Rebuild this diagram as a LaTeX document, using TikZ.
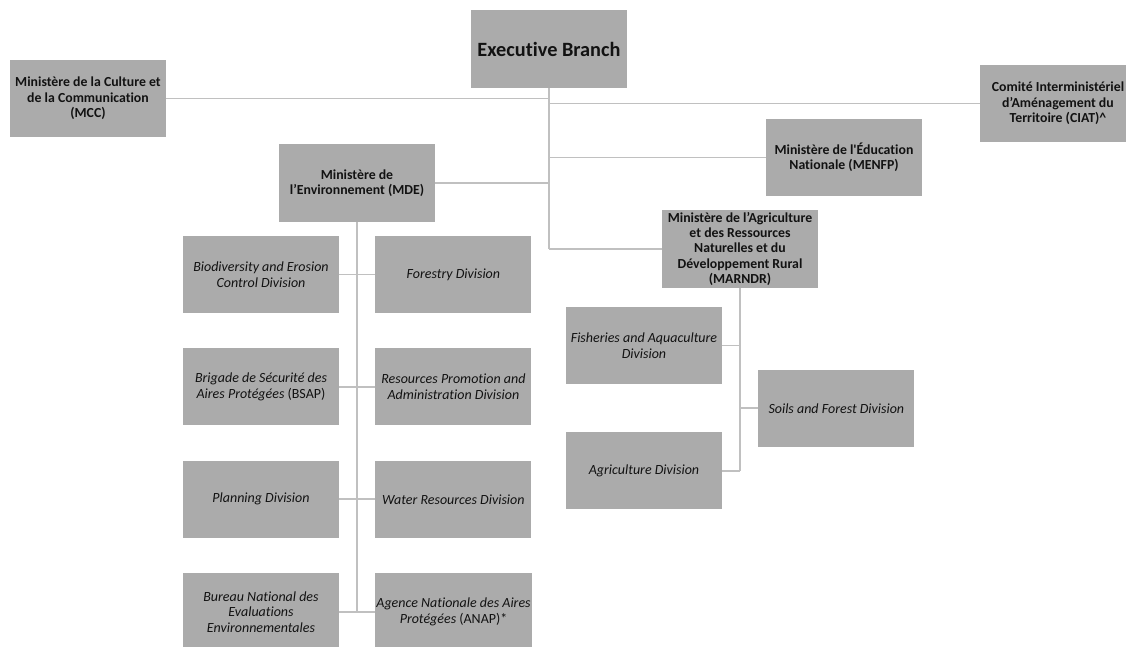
\documentclass[tikz,border=0pt]{standalone}
\usepackage{fontspec}
\setmainfont{Carlito}[Ligatures=NoCommon]
\usetikzlibrary{positioning}
\definecolor{boxgray}{HTML}{ABABAB}
\definecolor{linegray}{HTML}{C0C0C0}
\definecolor{textgray}{HTML}{121212}

\begin{document}
\begin{tikzpicture}[
				x=1pt, y=-1pt,
				node distance=36pt,
				link/.style={draw=linegray, line width=1.8pt},
				block/.style={fill=boxgray, text=textgray, minimum width=156pt, minimum height=77pt, align=center, inner sep=1pt, font=\fontsize{13.8}{15.3}\selectfont\bfseries},
				division/.style={block, font=\fontsize{14}{15.5}\selectfont\itshape},
			]
				\useasboundingbox (0,0) rectangle (1126,647);

				\node[block, minimum height=78pt, font=\fontsize{20.3}{23}\selectfont\bfseries] (executive) at (549,49) {Executive Branch};
				\node[block] (mcc) at (88,98.5) {Ministère de la Culture et\\de la Communication\\(MCC)};
				\node[block] (ciat) at (1058,103.5) {Comité Interministériel\\d’Aménagement du\\Territoire (CIAT)\textasciicircum};
				\node[block] (menfp) at (844,157.5) {Ministère de l\textquotesingle Éducation\\Nationale (MENFP)};
				\node[block] (mde) at (357,183) {Ministère de\\l’Environnement (MDE)};
				\node[block, minimum height=78pt] (marndr) at (740,249) {Ministère de l’Agriculture\\et des Ressources\\Naturelles et du\\Développement Rural\\(MARNDR)};

				% environment divisions
				\node[division] (biodiversity) at (261,274.5) {Biodiversity and Erosion\\Control Division};
				\node[division, right=of biodiversity] (forestry) {Forestry Division};
				\node[division, below=35pt of biodiversity] (bsap) {Brigade de Sécurité des\\Aires Protégées \textup{(BSAP)}};
				\node[division, right=of bsap] (promotion) {Resources Promotion and\\Administration Division};
				\node[division, below=35pt of bsap] (planning) {Planning Division};
				\node[division, right=of planning] (water) {Water Resources Division};
				\node[division, below=35pt of planning] (bnee) {Bureau National des\\Evaluations\\Environnementales};
				\node[division, right=of bnee] (anap) {Agence Nationale des Aires\\Protégées \textup{(ANAP)*}};

				% agriculture divisions
				\node[division] (fisheries) at (644,345.5) {Fisheries and Aquaculture\\Division};
				\node[division, below=48pt of fisheries] (agriculture) {Agriculture Division};
				\path (fisheries.east) -- (agriculture.east) coordinate[midway] (fishagri);
				\node[division, right=of fishagri] (soils) {Soils and Forest Division};

				\draw[link] (executive.south) -- (executive.south |- marndr.west);
				\draw[link] (mcc.east) -- (mcc.east -| executive.south);
				\draw[link] (ciat.west) -- (ciat.west -| executive.south);
				\draw[link] (menfp.west) -- (menfp.west -| executive.south);
				\draw[link] (mde.east) -- (mde.east -| executive.south);
				\draw[link] (marndr.west) -- (marndr.west -| executive.south);

				\draw[link] (mde.south) -- (mde.south |- bnee.east);
				\draw[link] (biodiversity.east) -- (forestry.west);
				\draw[link] (bsap.east) -- (promotion.west);
				\draw[link] (planning.east) -- (water.west);
				\draw[link] (bnee.east) -- (anap.west);

				\draw[link] (marndr.south) -- (marndr.south |- agriculture.east);
				\draw[link] (fisheries.east) -- (fisheries.east -| marndr.south);
				\draw[link] (agriculture.east) -- (agriculture.east -| marndr.south);
				\draw[link] (soils.west) -- (soils.west -| marndr.south);
			\end{tikzpicture}
\end{document}
